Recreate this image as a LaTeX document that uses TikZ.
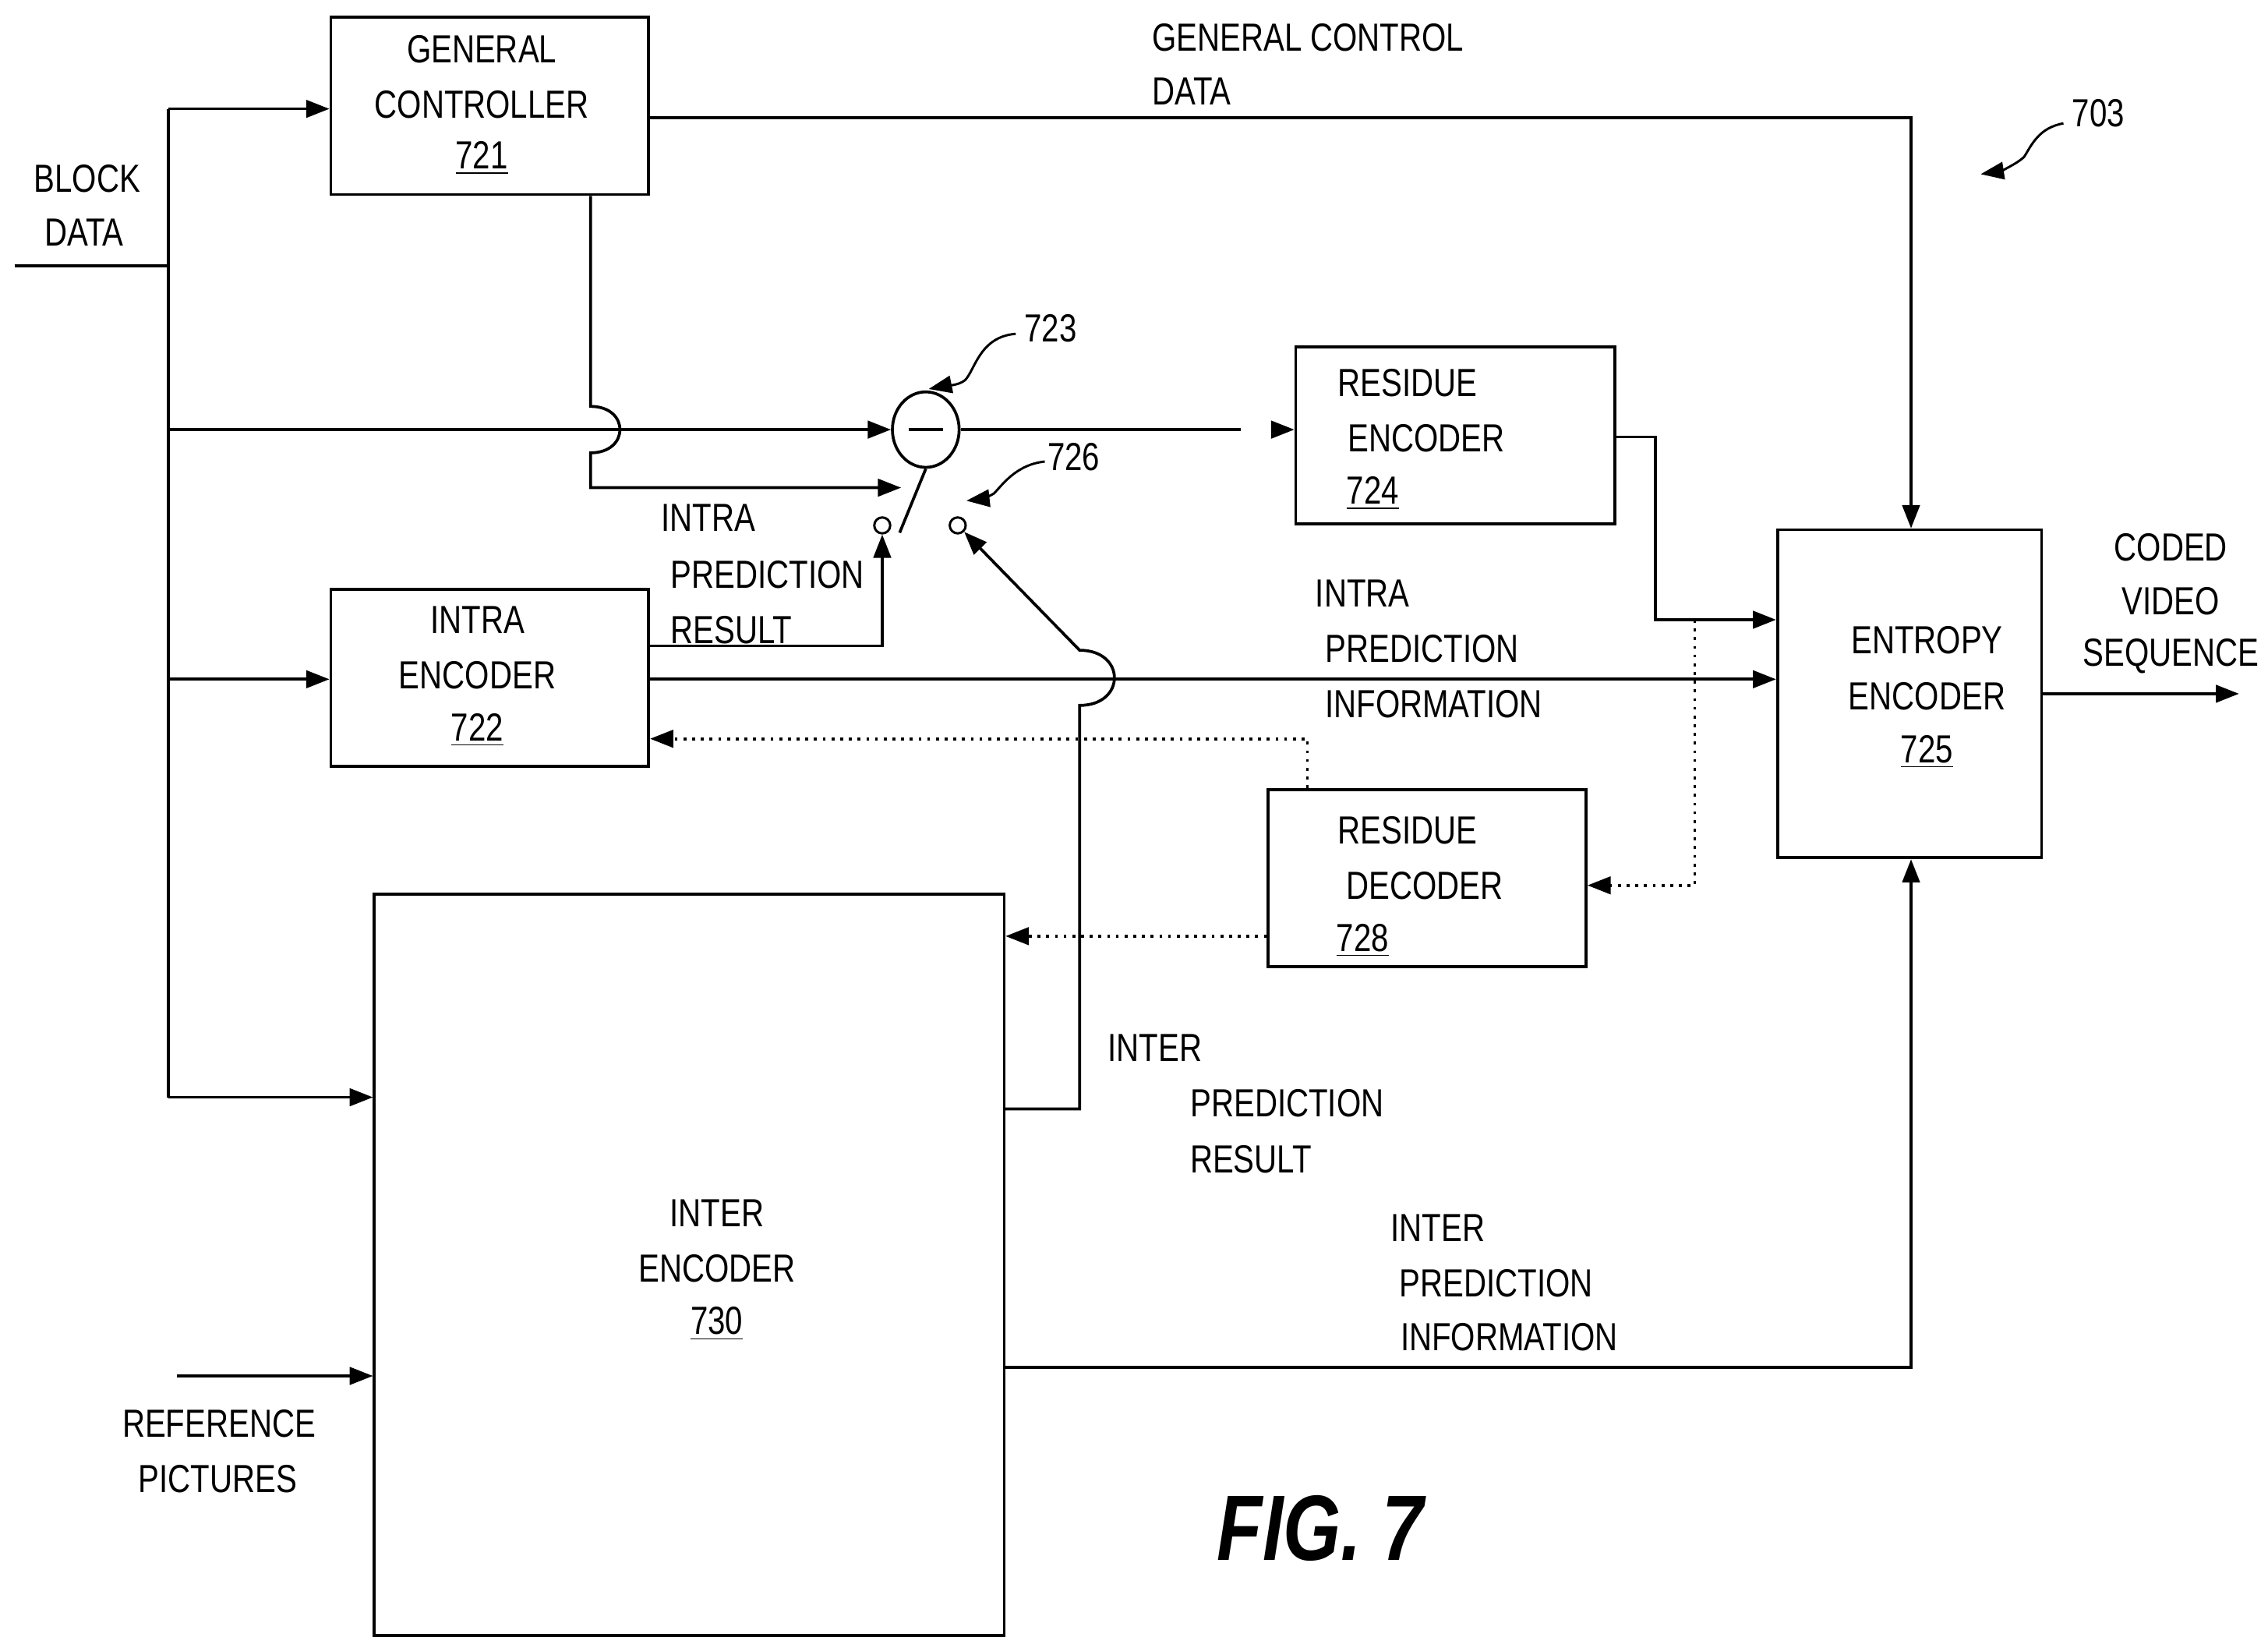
\documentclass[tikz,border=0pt]{standalone}
\usepackage{fontspec}
\setmainfont{Liberation Sans}[FakeStretch=0.8]
\usetikzlibrary{arrows.meta,shapes.geometric}
\begin{document}
\begin{tikzpicture}[x=0.5pt,y=-0.5pt,line width=1pt,
 box/.style={draw,rectangle,inner sep=0pt},
 t/.style={inner sep=0pt,font=\fontsize{13.5}{14}\selectfont,anchor=center},
 arr/.style={-{Triangle[length=8pt,width=6pt]}},
 dot/.style={dotted,line width=1pt},
 sm/.style={draw,circle,inner sep=0pt,minimum size=5.5pt,line width=0.8pt}]
\useasboundingbox[fill=white] (0,0) rectangle (1563,1135);
% boxes
\node[box,minimum width=109.5pt,minimum height=61pt] (gc) at (337.5,73) {};
\node[box,minimum width=110pt,minimum height=61pt] (re) at (1003,300) {};
\node[box,minimum width=91pt,minimum height=113pt] (ee) at (1316,478) {};
\node[box,minimum width=109.5pt,minimum height=61pt] (ie) at (337.5,467) {};
\node[box,minimum width=217pt,minimum height=255.5pt] (xe) at (475,871.5) {};
\node[box,minimum width=109.5pt,minimum height=61pt] (rd) at (983.5,605) {};
\node[draw,ellipse,inner sep=0pt,minimum width=23pt,minimum height=26pt] (sub) at (638,296) {};
\draw (sub.center)+(-12,0) -- +(12,0);
\node[sm] (c1) at (608,362) {};
\node[sm] (c2) at (660,362) {};
% texts
\node[t] at (332,34) {GENERAL};
\node[t] at (332,72) {CONTROLLER};
\node[t] at (332,109) {\underline{721}};
\node[t] at (60,123) {BLOCK};
\node[t] at (58,160) {DATA};
\node[t,anchor=west] at (793,26) {GENERAL CONTROL};
\node[t,anchor=west] at (793,63) {DATA};
\node[t] at (1446,78) {703};
\node[t] at (724,226) {723};
\node[t] at (740,315) {726};
\node[t] at (970,264) {RESIDUE};
\node[t] at (983,302) {ENCODER};
\node[t] at (946,340) {\underline{724}};
\node[t] at (1328,441) {ENTROPY};
\node[t] at (1328,480) {ENCODER};
\node[t] at (1328,518) {\underline{725}};
\node[t] at (1496,377) {CODED};
\node[t] at (1496,414) {VIDEO};
\node[t] at (1496,452) {SEQUENCE};
\node[t] at (329,427) {INTRA};
\node[t] at (329,465) {ENCODER};
\node[t] at (329,503) {\underline{722}};
\node[t] at (488,357) {INTRA};
\node[t] at (529,396) {PREDICTION};
\node[t] at (504,434) {RESULT};
\node[t] at (939,409) {INTRA};
\node[t] at (980,447) {PREDICTION};
\node[t] at (988,485) {INFORMATION};
\node[t] at (970,572) {RESIDUE};
\node[t] at (982,610) {DECODER};
\node[t] at (939,648) {\underline{728}};
\node[t] at (494,836) {INTER};
\node[t] at (494,874) {ENCODER};
\node[t] at (494,912) {\underline{730}};
\node[t] at (796,722) {INTER};
\node[t] at (887,760) {PREDICTION};
\node[t] at (862,799) {RESULT};
\node[t] at (991,846) {INTER};
\node[t] at (1031,884) {PREDICTION};
\node[t] at (1040,921) {INFORMATION};
\node[t] at (151,981) {REFERENCE};
\node[t] at (150,1019) {PICTURES};
\node[inner sep=0pt,font=\fontsize{32}{34}\selectfont\bfseries\itshape] at (910,1053) {FIG. 7};
% coordinates
\coordinate (bd) at (10,183);
\coordinate (bt) at (116,75);
\coordinate (bb) at (116,756);
\coordinate (rp) at (122,948);
% block data
\draw (bd) -- (116,183);
\draw (bt) -- (bb);
\draw[arr] (bt) -- (gc.west |- bt);
\draw[arr] (116,296) -- (sub.west);
\draw[arr] (116,468) -- (ie.west |- 0,468);
\draw[arr] (bb) -- (xe.west |- bb);
\draw[arr] (rp) -- (xe.west |- rp);
% general control
\draw[arr] (gc.east |- 0,81) -- (1317,81) -- (ee.north -| 1317,0);
\draw[arr] (gc.south -| 407,0) -- (407,280) .. controls (434,280) and (434,312) .. (407,312) -- (407,336) -- (621,336);
% subtractor / switch
\draw (sub.east) -- (855,296);
\draw[arr] (878,296) -- (re.west |- 0,296);
\draw (sub.south) -- (620,367);
% residue encoder out
\draw[arr] (re.east |- 0,301) -- (1141,301) -- (1141,427) -- (ee.west |- 0,427);
\draw[arr] (ee.east) -- (1543,478);
% intra
\draw[arr] (ie.east |- 0,445) -- (608,445) -- (c1.south);
\draw[arr] (ie.east |- 0,468) -- (ee.west |- 0,468);
% inter
\draw[arr] (xe.east |- 0,764) -- (744,764) -- (744,486) .. controls (776,486) and (776,448) .. (744,448) -- (c2.south east);
\draw[arr] (xe.east |- 0,942) -- (1317,942) -- (ee.south -| 1317,0);
% dotted
\draw[dot,arr] (1168,427) -- (1168,610) -- (rd.east |- 0,610);
\draw[dot,arr] (rd.north -| 901,0) -- (901,509) -- (ie.east |- 0,509);
\draw[dot,arr] (rd.west |- 0,645) -- (xe.east |- 0,645);
% leaders
\draw[arr,line width=0.8pt] (700,230) .. controls (675,232) and (672,255) .. (665,262) .. controls (660,266) and (650,266) .. (640,268);
\draw[arr,line width=0.8pt] (720,318) .. controls (700,320) and (690,335) .. (685,340) .. controls (680,343) and (675,344) .. (666,345);
\draw[arr,line width=0.8pt] (1422,85) .. controls (1405,88) and (1400,100) .. (1395,108) .. controls (1390,113) and (1378,118) .. (1365,120);
\end{tikzpicture}
\end{document}
